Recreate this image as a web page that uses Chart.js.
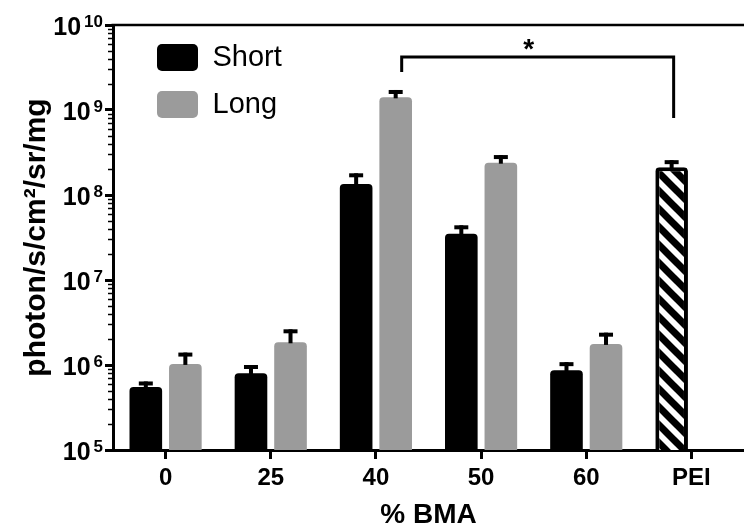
<!DOCTYPE html>
<html>
<head>
<meta charset="utf-8">
<script src="https://cdn.jsdelivr.net/npm/chart.js@4.4.1/dist/chart.umd.min.js"></script>
<style>
html,body{margin:0;padding:0;background:#fff;}
#wrap{width:744px;height:532px;}
</style>
</head>
<body>
<div id="wrap"><canvas id="c" width="744" height="532"></canvas></div>
<script>
// ---- data ----
const categories = ['0', '25', '40', '50', '60', 'PEI'];
const shortValues = [5.5e5, 8.0e5, 1.35e8, 3.5e7, 8.7e5, null];
const shortErrors = [0.9e5, 2.0e5, 4.5e7, 0.9e7, 2.1e5, null];
const longValues  = [1.03e6, 1.85e6, 1.41e9, 2.4e8, 1.77e6, null];
const longErrors  = [3.7e5, 7.8e5, 3.1e8, 5.5e7, 6.3e5, null];
const peiValues   = [null, null, null, null, null, 2.12e8];
const peiErrors   = [null, null, null, null, null, 4.5e7];
const yTickValues = [1e5, 1e6, 1e7, 1e8, 1e9, 1e10];
const yTickBase = '10';
const yTickExponents = ['5', '6', '7', '8', '9', '10'];
const yMinorSignificands = [2, 3, 4, 5, 6, 7, 8, 9];
const bracketLevel = 4.2e9;      // horizontal line of significance bracket
const bracketLeftEnd = 2.8e9;    // lower end of left leg
const bracketRightEnd = 8.05e8;  // lower end of right leg
const bracketLabel = '*';

const FONT = "'Liberation Sans', Arial, Helvetica, sans-serif";
Chart.defaults.font.family = FONT;
Chart.defaults.color = '#000';

const GRAY = '#9b9b9b';

const hatch = (() => {
  const s = 18;
  const c = document.createElement('canvas');
  c.width = s; c.height = s;
  const g = c.getContext('2d');
  g.fillStyle = '#fff'; g.fillRect(0, 0, s, s);
  g.strokeStyle = '#000'; g.lineWidth = 7;
  for (const o of [-s, 0, s]) {
    g.beginPath(); g.moveTo(o - 6, -6); g.lineTo(o + s + 6, s + 6); g.stroke();
  }
  return g.createPattern(c, 'repeat');
})();

const errorSets = [shortErrors, longErrors, peiErrors];

const errorBarPlugin = {
  id: 'errorBars',
  afterDatasetsDraw(chart) {
    const ctx = chart.ctx, ys = chart.scales.y;
    ctx.save();
    ctx.fillStyle = '#000';
    chart.data.datasets.forEach((ds, di) => {
      const meta = chart.getDatasetMeta(di);
      meta.data.forEach((bar, i) => {
        const v = ds.data[i], e = errorSets[di][i];
        if (v == null || e == null) return;
        const top = ys.getPixelForValue(v + e);
        ctx.fillRect(bar.x - 2, top, 4, bar.y - top + 1);
        ctx.fillRect(bar.x - 7, top, 14, 4);
      });
    });
    ctx.restore();
  }
};

const decorPlugin = {
  id: 'decor',
  beforeDraw(chart) {
    if (chart.legend) {
      chart.legend.left = chart.chartArea.left + 26;
      chart.legend.top = chart.chartArea.top;
    }
  },
  afterDraw(chart) {
    const ctx = chart.ctx, ca = chart.chartArea, ys = chart.scales.y;
    ctx.save();
    ctx.strokeStyle = '#000';
    ctx.fillStyle = '#000';
    // top frame line
    ctx.lineWidth = 2.5;
    ctx.beginPath(); ctx.moveTo(ca.left - 1.5, ca.top); ctx.lineTo(chart.width, ca.top); ctx.stroke();
    // minor ticks
    ctx.lineWidth = 1.5;
    for (let d = 0; d < yTickValues.length - 1; d++) {
      for (const m of yMinorSignificands) {
        const py = Math.round(ys.getPixelForValue(yTickValues[d] * m)) + 0.5;
        ctx.beginPath(); ctx.moveTo(ca.left - 5, py); ctx.lineTo(ca.left, py); ctx.stroke();
      }
    }
    // y tick labels 10^n
    ctx.textBaseline = 'alphabetic';
    ctx.textAlign = 'right';
    const rightX = ca.left - 10;
    yTickValues.forEach((v, i) => {
      const py = ys.getPixelForValue(v);
      ctx.font = 'bold 17px ' + FONT;
      const ew = ctx.measureText(yTickExponents[i]).width;
      ctx.fillText(yTickExponents[i], rightX, py + 2);
      ctx.font = 'bold 25px ' + FONT;
      ctx.fillText(yTickBase, rightX - ew - 3, py + 10);
    });
    // significance bracket
    const longBar = chart.getDatasetMeta(1).data[2];
    const peiBar = chart.getDatasetMeta(2).data[5];
    const xL = longBar.x + 6, xR = peiBar.x + 2;
    const yH = ys.getPixelForValue(bracketLevel);
    ctx.lineWidth = 3;
    ctx.lineJoin = 'miter';
    ctx.beginPath();
    ctx.moveTo(xL, ys.getPixelForValue(bracketLeftEnd));
    ctx.lineTo(xL, yH);
    ctx.lineTo(xR, yH);
    ctx.lineTo(xR, ys.getPixelForValue(bracketRightEnd));
    ctx.stroke();
    ctx.font = 'bold 28px ' + FONT;
    ctx.textAlign = 'center';
    ctx.fillText(bracketLabel, (xL + xR) / 2 - 9, yH + 1);
    ctx.restore();
  }
};

new Chart(document.getElementById('c'), {
  type: 'bar',
  data: {
    labels: categories,
    datasets: [
      { label: 'Short', data: shortValues, stack: 'left', backgroundColor: '#000', borderRadius: 4, borderSkipped: 'start' },
      { label: 'Long', data: longValues, stack: 'right', backgroundColor: GRAY, borderRadius: 4, borderSkipped: 'start' },
      { label: 'PEI', data: peiValues, stack: 'left', backgroundColor: hatch, borderColor: '#000', borderWidth: 4, borderRadius: 4, borderSkipped: 'start' }
    ]
  },
  options: {
    responsive: false,
    animation: false,
    devicePixelRatio: 1,
    categoryPercentage: 0.752,
    barPercentage: 0.825,
    layout: { padding: { left: 10, top: 25, right: -8, bottom: 0 } },
    plugins: {
      tooltip: { enabled: false },
      legend: {
        position: 'chartArea',
        align: 'start',
        labels: {
          filter: (item) => item.text !== 'PEI',
          boxWidth: 41, boxHeight: 27,
          padding: 18,
          useBorderRadius: true, borderRadius: 5,
          color: '#000',
          font: { size: 29, family: FONT }
        }
      }
    },
    scales: {
      x: {
        stacked: true,
        grid: { offset: false, drawOnChartArea: false, drawTicks: true, tickLength: 9, tickWidth: 3, tickColor: '#000' },
        border: { display: true, color: '#000', width: 3 },
        ticks: { font: { size: 24, weight: 'bold' }, color: '#000', padding: 5, maxRotation: 0, autoSkip: false },
        title: { display: true, text: '% BMA', color: '#000', font: { size: 28, weight: 'bold', lineHeight: 1 }, padding: { top: 0, bottom: 3 } },
        afterFit: (s) => { s.height = 82; }
      },
      y: {
        type: 'logarithmic',
        min: 1e5, max: 1e10,
        afterBuildTicks: (s) => { s.ticks = yTickValues.map(v => ({ value: v, major: true })); },
        ticks: { display: false },
        grid: { drawOnChartArea: false, drawTicks: true, tickLength: 8, tickWidth: 3, tickColor: '#000' },
        border: { display: true, color: '#000', width: 3 },
        title: { display: true, text: 'photon/s/cm²/sr/mg', color: '#000', font: { size: 30, weight: 'bold' }, padding: { top: 9, bottom: 0 } },
        afterFit: (s) => { s.width = 103; }
      }
    }
  },
  plugins: [errorBarPlugin, decorPlugin]
});
</script>
</body>
</html>
